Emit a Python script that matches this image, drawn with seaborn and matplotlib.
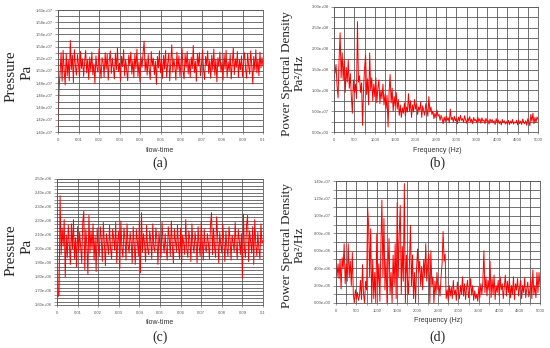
import numpy as np
import matplotlib
matplotlib.use("Agg")
import matplotlib.pyplot as plt
from matplotlib.ticker import MultipleLocator, FuncFormatter
import seaborn as sns

# ---------------- data ----------------
# (a) pressure, units of bar (1e5 Pa), t = 0 ... 0.1 s
pressure_a_bar = [
    140.6, 146.9, 149.6, 153.0, 148.3, 153.4, 150.1, 147.7, 152.9, 149.2,
    151.8, 148.4, 155.0, 150.2, 152.6, 148.1, 153.5, 150.8, 149.3, 152.7,
    151.0, 148.9, 153.2, 150.4, 152.0, 149.1, 151.6, 153.4, 149.7, 151.9,
    148.6, 152.3, 150.0, 153.1, 149.4, 151.2, 147.9, 152.5, 150.6, 149.8,
    153.6, 150.9, 148.8, 152.2, 151.4, 149.0, 153.0, 150.3, 152.8, 148.5,
    151.7, 153.3, 149.6, 152.1, 150.5, 148.7, 152.9, 150.2, 153.8, 149.9,
    151.3, 148.3, 152.4, 150.7, 153.5, 149.2, 151.9, 150.1, 148.4, 152.6,
    150.9, 153.1, 149.5, 151.7, 148.9, 152.8, 150.4, 153.6, 149.1, 151.5,
    148.2, 152.3, 150.6, 153.0, 154.9, 150.0, 151.8, 149.3, 152.7, 150.2,
    148.6, 153.2, 150.8, 152.1, 149.4, 151.6, 147.8, 152.4, 150.5, 153.3,
    149.7, 151.9, 148.8, 152.6, 150.3, 153.4, 149.0, 151.2, 152.9, 148.4,
    151.5, 154.3, 149.8, 152.0, 150.7, 148.5, 153.1, 150.2, 152.5, 149.1,
    151.4, 153.7, 150.0, 148.7, 152.8, 150.6, 153.2, 149.5, 151.8, 148.9,
    152.3, 150.4, 154.2, 149.7, 151.6, 148.3, 152.9, 150.8, 153.0, 149.2,
    151.1, 153.5, 150.2, 148.6, 152.4, 150.9, 153.3, 149.6, 151.7, 148.8,
    152.6, 150.1, 153.6, 149.3, 151.9, 148.2, 152.2, 150.7, 153.1, 149.8,
    151.4, 148.5, 152.8, 150.3, 153.4, 149.0, 151.5, 150.0, 152.7, 148.7,
    151.2, 153.8, 149.4, 152.0, 150.6, 153.2, 148.9, 151.8, 150.2, 152.5,
    149.1, 151.6, 153.0, 150.4, 148.8, 152.9, 150.8, 149.5, 153.3, 151.0,
    147.9, 152.4, 150.1, 153.5, 149.7, 151.9, 149.2, 153.1, 150.5, 152.2,
    150.8,
]

# (c) pressure, units of bar (1e5 Pa), t = 0 ... 0.1 s
pressure_c_bar = [
    22.7, 16.6, 16.7, 23.8, 19.6, 21.5, 20.2, 22.1, 18.0, 21.0,
    19.4, 21.7, 20.3, 18.9, 21.8, 20.0, 22.1, 19.3, 20.8, 18.7,
    21.6, 19.8, 21.2, 20.1, 19.0, 21.9, 22.7, 18.5, 21.4, 20.3,
    18.2, 22.4, 19.7, 21.3, 20.0, 21.8, 19.2, 20.9, 18.4, 21.5,
    20.2, 19.5, 21.6, 20.7, 19.1, 21.9, 20.3, 18.8, 21.1, 20.4,
    19.6, 21.7, 20.0, 19.3, 21.4, 20.8, 19.9, 21.9, 19.0, 20.6,
    21.3, 18.6, 22.0, 20.1, 19.4, 21.5, 20.7, 19.2, 21.8, 20.3,
    19.7, 21.2, 20.5, 19.0, 21.6, 20.2, 18.9, 21.4, 20.6, 19.5,
    22.0, 18.3, 22.6, 19.8, 21.1, 20.4, 19.1, 21.7, 20.0, 19.6,
    21.3, 20.6, 19.3, 21.8, 20.1, 19.8, 21.5, 20.7, 18.9, 21.2,
    20.3, 19.4, 21.9, 20.5, 19.7, 21.1, 20.0, 19.2, 21.6, 20.8,
    19.5, 22.0, 20.2, 19.0, 21.4, 20.6, 19.8, 21.7, 20.1, 19.3,
    21.5, 18.9, 21.0, 20.4, 19.6, 22.1, 20.0, 19.4, 21.3, 20.7,
    19.1, 21.8, 20.3, 19.7, 21.2, 20.5, 19.0, 21.6, 20.2, 19.5,
    21.9, 20.6, 19.2, 21.4, 20.0, 19.8, 21.1, 20.4, 19.3, 21.7,
    22.6, 19.6, 21.5, 20.1, 19.4, 22.3, 20.8, 19.0, 21.2, 20.3,
    19.7, 21.8, 20.5, 19.1, 21.3, 20.0, 19.5, 21.6, 20.7, 19.2,
    21.0, 20.4, 19.8, 21.9, 20.2, 19.3, 21.4, 20.6, 19.6, 21.1,
    17.9, 22.5, 20.0, 19.4, 21.7, 22.4, 19.1, 21.3, 20.5, 19.7,
    21.6, 18.9, 22.1, 20.3, 19.5, 21.2, 20.0, 19.3, 21.8, 20.4,
    20.6,
]

# (b) PSD, units of 1e7 Pa^2/Hz, f = 0 ... 5000 Hz
psd_b_1e7 = [
    13.5, 14.2, 16.2, 11.0, 8.2, 17.5, 23.8, 13.0, 19.0, 12.5,
    17.2, 9.5, 15.5, 12.0, 17.3, 10.5, 14.0, 8.5, 4.5, 12.5,
    9.5, 11.5, 8.0, 26.5, 12.0, 13.5, 9.5, 11.8, 1.6, 10.5,
    15.5, 18.5, 9.0, 12.8, 6.5, 19.0, 10.0, 13.0, 7.5, 11.5,
    8.5, 13.0, 7.0, 10.5, 12.5, 6.8, 10.0, 8.0, 11.5, 6.5,
    9.0, 5.5, 8.8, 1.2, 9.5, 13.8, 7.0, 10.5, 5.0, 8.5,
    6.2, 9.5, 5.5, 7.8, 4.0, 6.5, 3.5, 5.8, 4.5, 7.0,
    3.8, 6.0, 4.8, 9.2, 5.0, 7.5, 3.5, 6.5, 4.8, 7.8,
    5.5, 6.8, 4.2, 6.0, 5.2, 7.2, 3.5, 6.3, 5.0, 4.0,
    6.8, 5.5, 3.8, 8.5, 4.8, 6.0, 4.2, 5.0, 3.2, 4.5,
    3.5, 5.2, 3.8, 4.2, 2.8, 4.0, 3.2, 2.0, 3.6, 2.5,
    3.8, 2.8, 3.4, 2.2, 5.5, 3.0, 3.5, 2.4, 3.8, 2.7,
    3.3, 2.0, 3.6, 2.6, 4.0, 2.8, 3.2, 2.3, 3.9, 2.9,
    2.1, 3.4, 2.6, 3.7, 2.4, 3.1, 2.0, 3.5, 2.7, 3.0,
    2.2, 3.6, 2.5, 3.2, 2.1, 3.4, 2.6, 2.9, 2.0, 3.3,
    2.5, 2.8, 1.9, 3.1, 2.4, 3.0, 2.2, 2.7, 1.8, 3.2,
    2.3, 2.9, 2.0, 2.6, 1.7, 3.0, 2.2, 2.7, 1.9, 2.5,
    2.0, 2.8, 1.8, 2.6, 2.1, 3.0, 1.9, 2.4, 2.2, 2.8,
    1.7, 2.9, 2.0, 2.6, 1.8, 3.1, 2.3, 2.0, 2.7, 1.6,
    3.2, 2.4, 1.5, 4.2, 2.6, 4.5, 2.0, 3.5, 2.3, 3.6,
    3.0,
]

# (d) PSD, units of 1e6 Pa^2/Hz, f = 0 ... 5000 Hz
psd_d_1e6 = [
    5.0, 3.0, 4.5, 2.8, 5.0, 1.6, 5.2, 4.0, 6.8, 2.2,
    4.5, 2.5, 6.8, 3.0, 4.8, 2.0, 5.8, 1.0, 0.0, 1.5,
    0.5, 1.2, 0.3, 0.8, 2.6, 0.4, 4.4, 1.0, 0.0, 2.5,
    1.5, 11.0, 8.8, 3.0, 8.5, 0.0, 5.0, 0.5, 3.5, 0.0,
    8.0, 2.0, 4.5, 0.2, 6.5, 11.8, 3.0, 9.7, 1.5, 5.0,
    0.0, 4.0, 7.4, 1.0, 3.5, 0.0, 5.5, 2.0, 6.8, 0.5,
    11.5, 3.0, 8.0, 11.2, 1.0, 6.5, 2.5, 13.7, 0.0, 5.5,
    3.0, 1.0, 4.5, 8.9, 2.0, 5.5, 0.5, 3.5, 0.0, 4.0,
    6.2, 3.5, 4.8, 2.0, 4.2, 1.5, 5.0, 3.0, 6.8, 2.5,
    4.5, 5.6, 0.0, 6.0, 2.0, 3.0, 0.0, 2.5, 1.0, 3.5,
    1.5, 2.0, 0.8, 3.0, 4.5, 8.2, 4.8, 5.6, 0.5, 1.5,
    0.3, 2.0, 0.8, 1.8, 0.5, 2.6, 1.0, 1.5, 0.3, 2.4,
    1.2, 0.5, 2.0, 1.0, 3.0, 0.8, 2.2, 0.4, 1.8, 2.6,
    0.6, 1.5, 2.8, 0.9, 2.0, 0.3, 1.4, 0.5, 1.0, 0.2,
    1.8, 0.6, 2.2, 1.0, 2.5, 6.0, 1.2, 3.0, 0.8, 2.6,
    1.5, 4.8, 0.6, 2.8, 1.0, 3.2, 0.4, 2.0, 1.2, 2.6,
    0.8, 3.0, 1.5, 2.2, 0.5, 1.8, 3.2, 0.8, 2.5, 1.2,
    2.8, 0.6, 2.0, 1.0, 3.0, 0.4, 2.2, 1.5, 2.8, 0.8,
    1.8, 2.6, 0.5, 2.0, 1.2, 2.9, 0.6, 1.6, 2.4, 0.7,
    1.4, 2.8, 0.5, 3.8, 1.0, 2.0, 0.6, 3.5, 1.2, 3.5,
    2.0,
]

time_a = np.linspace(0.0, 0.1, len(pressure_a_bar))
time_c = np.linspace(0.0, 0.1, len(pressure_c_bar))
freq_b = np.linspace(0.0, 5000.0, len(psd_b_1e7))
freq_d = np.linspace(0.0, 5000.0, len(psd_d_1e6))

# ---------------- figure ----------------
sns.set_theme(style="white")
plt.rcParams["font.family"] = ["Liberation Sans", "DejaVu Sans"]

W, H = 550, 348
fig = plt.figure(figsize=(W / 100, H / 100), dpi=100)
fig.patch.set_facecolor("white")


def px_axes(left, top, right, bottom):
    return fig.add_axes([left / W, 1 - bottom / H, (right - left) / W, (bottom - top) / H])


GRID = "#5a5a5a"
TICK_COL = "#707070"
sci = FuncFormatter(lambda v, p: f"{v:.2e}")
plain = FuncFormatter(lambda v, p: f"{v:g}")


def style(ax, xmaj, xmin, ymaj, ymin, xlim, ylim):
    ax.set_xlim(*xlim)
    ax.set_ylim(*ylim)
    ax.xaxis.set_major_locator(MultipleLocator(xmaj))
    ax.xaxis.set_minor_locator(MultipleLocator(xmin))
    ax.yaxis.set_major_locator(MultipleLocator(ymaj))
    ax.yaxis.set_minor_locator(MultipleLocator(ymin))
    ax.yaxis.set_major_formatter(sci)
    ax.xaxis.set_major_formatter(plain)
    ax.grid(True, which="both", color=GRID, linewidth=0.6)
    ax.set_axisbelow(True)
    ax.tick_params(axis="both", which="both", labelsize=3, labelcolor="#555555",
                   color=TICK_COL, width=0.5)
    ax.tick_params(axis="y", which="both", left=True, length=2, pad=1.5)
    ax.tick_params(axis="x", which="both", bottom=True, length=1.5, pad=3)
    for s in ax.spines.values():
        s.set_color(GRID)
        s.set_linewidth(0.6)
    ax.set_xlabel("")
    ax.set_ylabel("")


RED = "#ff0000"
LW = 0.7

# (a)
ax_a = px_axes(58, 10, 263, 132)
sns.lineplot(x=time_a, y=np.array(pressure_a_bar) * 1e5, ax=ax_a, color=RED, linewidth=LW)
style(ax_a, 0.01, 0.01, 0.02e7, 0.01e7, (0, 0.1), (1.40e7, 1.60e7))

# (b)
ax_b = px_axes(334, 7, 538, 132)
sns.lineplot(x=freq_b, y=np.array(psd_b_1e7) * 1e7, ax=ax_b, color=RED, linewidth=LW)
style(ax_b, 500, 250, 5e7, 2.5e7, (0, 5000), (0, 3.0e8))

# (c)
ax_c = px_axes(57, 179, 263, 305)
sns.lineplot(x=time_c, y=np.array(pressure_c_bar) * 1e5, ax=ax_c, color=RED, linewidth=LW)
style(ax_c, 0.01, 0.01, 0.1e6, 0.025e6, (0, 0.1), (1.60e6, 2.50e6))

# (d)
ax_d = px_axes(336, 181, 540, 303)
sns.lineplot(x=freq_d, y=np.array(psd_d_1e6) * 1e6, ax=ax_d, color=RED, linewidth=LW)
style(ax_d, 500, 250, 2e6, 1e6, (0, 5000), (0, 1.4e7))


def ftext(x, y, s, **kw):
    fig.text(x / W, 1 - y / H, s, ha="center", va="center", **kw)


SERIF = ["Liberation Serif", "DejaVu Serif"]
SANS = ["Liberation Sans", "DejaVu Sans"]

# y labels
ftext(11, 76, "Pressure", rotation=90, fontsize=11, family=SERIF)
ftext(27, 72, "Pa", rotation=90, fontsize=11, family=SERIF)
ftext(11, 250, "Pressure", rotation=90, fontsize=11, family=SERIF)
ftext(27, 246, "Pa", rotation=90, fontsize=11, family=SERIF)

ftext(287, 73, "Power Spectral Density", rotation=90, fontsize=9.5, family=SERIF)
ftext(300, 73, "Pa\u00b2/Hz", rotation=90, fontsize=9.5, family=SERIF)
ftext(287, 245, "Power Spectral Density", rotation=90, fontsize=9.5, family=SERIF)
ftext(300, 245, "Pa\u00b2/Hz", rotation=90, fontsize=9.5, family=SERIF)

# x labels
ftext(160, 151, "flow-time", fontsize=5, family=SANS, color="#333333")
ftext(437, 150, "Frequency (Hz)", fontsize=5, family=SANS, color="#333333")
ftext(160, 322, "flow-time", fontsize=5, family=SANS, color="#333333")
ftext(438, 321, "Frequency (Hz)", fontsize=5, family=SANS, color="#333333")

# panel letters
ftext(160, 163, "(a)", fontsize=10, family=SERIF)
ftext(437, 163, "(b)", fontsize=10, family=SERIF)
ftext(160, 337, "(c)", fontsize=10, family=SERIF)
ftext(438, 337, "(d)", fontsize=10, family=SERIF)

fig.savefig("out.png", dpi=100, facecolor="white")
